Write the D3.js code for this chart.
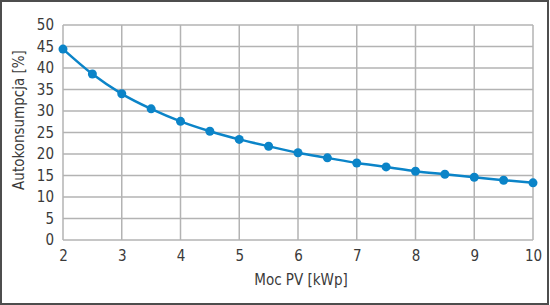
<!DOCTYPE html>
<html>
<head>
<meta charset="utf-8">
<script src="https://cdn.jsdelivr.net/npm/d3@7"></script>
<style>
  body { margin: 0; background: #fff; }
  text { font-family: "Liberation Sans Narrow", "DejaVu Sans Condensed", "Liberation Sans", sans-serif; fill: #3a3a3a; }
</style>
</head>
<body>
<div id="visual"></div>
<script>
// data
const power = [2, 2.5, 3, 3.5, 4, 4.5, 5, 5.5, 6, 6.5, 7, 7.5, 8, 8.5, 9, 9.5, 10];
const selfUse = [44.4, 38.6, 34.0, 30.5, 27.6, 25.3, 23.4, 21.8, 20.3, 19.1, 17.9, 17.0, 16.0, 15.3, 14.6, 13.9, 13.3];
const xTicks = [2, 3, 4, 5, 6, 7, 8, 9, 10];
const yTicks = [0, 5, 10, 15, 20, 25, 30, 35, 40, 45, 50];
const xTitle = "Moc PV [kWp]";
const yTitle = "Autokonsumpcja [%]";

const width = 550, height = 305;
const margin = {top: 25, right: 17, bottom: 65, left: 63};

const svg = d3.select("#visual")
  .append("svg")
  .attr("width", width)
  .attr("height", height);

// frame
svg.append("rect")
  .attr("x", 1).attr("y", 1)
  .attr("width", width - 3).attr("height", height - 2)
  .attr("fill", "none")
  .attr("stroke", "#4d4d4d")
  .attr("stroke-width", 2);

const x = d3.scaleLinear().domain([2, 10]).range([margin.left, width - margin.right]);
const y = d3.scaleLinear().domain([0, 50]).range([height - margin.bottom, margin.top]);

// grid
svg.append("g")
  .selectAll("line")
  .data(xTicks)
  .join("line")
  .attr("x1", d => x(d)).attr("x2", d => x(d))
  .attr("y1", y(0)).attr("y2", y(50))
  .attr("stroke", "#b3b3b3").attr("stroke-width", 1.5);
svg.append("g")
  .selectAll("line")
  .data(yTicks)
  .join("line")
  .attr("x1", x(2)).attr("x2", x(10))
  .attr("y1", d => y(d)).attr("y2", d => y(d))
  .attr("stroke", "#b3b3b3").attr("stroke-width", 1.5);

// axes (labels only)
const xAxis = svg.append("g")
  .attr("transform", "translate(0," + y(0) + ")")
  .call(d3.axisBottom(x).tickValues(xTicks).tickSize(0).tickPadding(10).tickFormat(d3.format("d")));
const yAxis = svg.append("g")
  .attr("transform", "translate(" + x(2) + ",0)")
  .call(d3.axisLeft(y).tickValues(yTicks).tickSize(0).tickPadding(9).tickFormat(d3.format("d")));
[xAxis, yAxis].forEach(a => {
  a.select(".domain").remove();
  a.selectAll("text").attr("font-size", 15).attr("fill", "#3a3a3a")
    .style("font-family", "\"Liberation Sans Narrow\", \"DejaVu Sans Condensed\", sans-serif");
});

// titles
svg.append("text")
  .attr("x", (x(2) + x(10)) / 2 + 3)
  .attr("y", 285)
  .attr("text-anchor", "middle")
  .attr("font-size", 15)
  .text(xTitle);
svg.append("text")
  .attr("transform", "translate(24,120) rotate(-90)")
  .attr("text-anchor", "middle")
  .attr("font-size", 15)
  .text(yTitle);

// series
const line = d3.line()
  .x((d, i) => x(power[i]))
  .y(d => y(d))
  .curve(d3.curveMonotoneX);
svg.append("path")
  .datum(selfUse)
  .attr("d", line)
  .attr("fill", "none")
  .attr("stroke", "#0b84c8")
  .attr("stroke-width", 2.5);
svg.append("g")
  .selectAll("circle")
  .data(selfUse)
  .join("circle")
  .attr("cx", (d, i) => x(power[i]))
  .attr("cy", d => y(d))
  .attr("r", 4.5)
  .attr("fill", "#0b84c8");
</script>
</body>
</html>
